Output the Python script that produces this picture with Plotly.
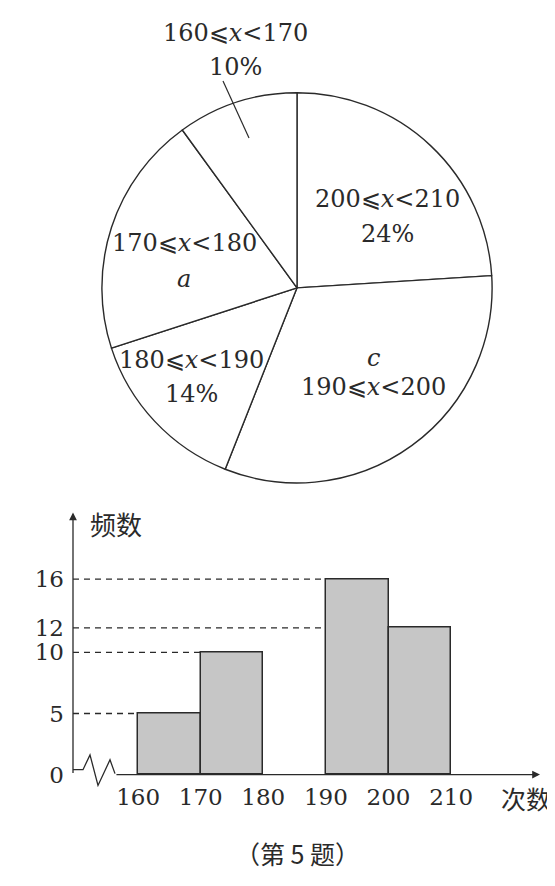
import plotly.graph_objects as go

W, H = 555, 886

# ---- data ----
pie_labels = ["200⩽x<210", "190⩽x<200", "180⩽x<190", "170⩽x<180", "160⩽x<170"]
pie_values = [24, 32, 14, 20, 10]          # percent (a = 20%, c = 32%)
pie_texts = ["24%", "c", "14%", "a", "10%"]

bin_left = [160, 170, 180, 190, 200]
freq = [5, 10, None, 16, 12]                 # 180-190 bar not drawn
x_ticks = [160, 170, 180, 190, 200, 210]
y_ticks = [0, 5, 10, 12, 16]

SERIF = "DejaVu Serif"
CJK = "Noto Sans CJK SC"
INK = "#2a2a2a"


def px(x):
    return x / W


def py(y):
    return 1 - y / H


fig = go.Figure()

# ---- pie ----
fig.add_trace(go.Pie(
    values=pie_values, labels=pie_labels, sort=False, direction="clockwise",
    rotation=0, textinfo="none", hoverinfo="skip", showlegend=False,
    marker=dict(colors=["white"] * len(pie_values), line=dict(color=INK, width=1.4)),
    domain=dict(x=[px(91), px(487)], y=[py(482), py(86)]),
))

# ---- histogram ----
xr = [149.6, 224.2]
yr = [0, 21.45]
centers = [l + 5 for l, f in zip(bin_left, freq) if f is not None]
heights = [f for f in freq if f is not None]
fig.add_trace(go.Bar(
    x=centers, y=heights, width=10, hoverinfo="skip", showlegend=False,
    marker=dict(color="#c6c6c6", line=dict(color=INK, width=1.5)),
    xaxis="x", yaxis="y",
))

shapes = []
# dashed guide lines: from the y axis to the first bar reaching that height
for v in sorted(set(heights)):
    left = min(l for l, f in zip(bin_left, freq) if f is not None and f >= v)
    shapes.append(dict(type="line", xref="x", yref="y", x0=xr[0], x1=left, y0=v, y1=v,
                       line=dict(color=INK, width=1.3, dash="6px,5px"), layer="below"))

# broken-axis zigzag near the origin
pts = [(65, 773), (75, 773), (82, 758), (90, 789), (102, 763), (107, 777)]
path = "M " + " L ".join(f"{px(a):.5f},{py(b):.5f}" for a, b in pts)
shapes.append(dict(type="path", xref="paper", yref="paper", path=path,
                   line=dict(color=INK, width=1.3)))
# leader line for the 160-170 label
shapes.append(dict(type="line", xref="paper", yref="paper",
                   x0=px(215), y0=py(74), x1=px(241), y1=py(132),
                   line=dict(color=INK, width=1.2)))

ann = []
# axis arrows
ann.append(dict(xref="x", yref="y", axref="x", ayref="y", x=xr[0], y=yr[1], ax=xr[0], ay=0,
                showarrow=True, arrowhead=2, arrowsize=1.2, arrowwidth=1.3, arrowcolor=INK, text=""))
ann.append(dict(xref="x", yref="y", axref="x", ayref="y", x=xr[1], y=0, ax=156.3, ay=0,
                showarrow=True, arrowhead=2, arrowsize=1.2, arrowwidth=1.3, arrowcolor=INK, text=""))

# pie labels
pie_ann = [
    ("160⩽<i>x</i><170", 227, 25), ("10%", 227, 60),
    ("200⩽<i>x</i><210", 379, 194), ("24%", 379, 229),
    ("170⩽<i>x</i><180", 176, 238), ("<i>a</i>", 176, 275),
    ("180⩽<i>x</i><190", 183, 357), ("14%", 183, 392),
    ("<i>c</i>", 365, 355), ("190⩽<i>x</i><200", 365, 385),
]
for t, x, y in pie_ann:
    ann.append(dict(xref="paper", yref="paper", x=px(x), y=py(y), text=t, showarrow=False,
                    xanchor="center", yanchor="middle", font=dict(family=SERIF, size=24, color=INK)))

ann.append(dict(xref="paper", yref="paper", x=px(108), y=py(523), text="频数", showarrow=False,
                xanchor="center", yanchor="middle", font=dict(family=CJK, size=26, color=INK)))
ann.append(dict(xref="paper", yref="paper", x=px(518), y=py(802), text="次数", showarrow=False,
                xanchor="center", yanchor="middle", font=dict(family=CJK, size=25, color=INK)))
ann.append(dict(xref="paper", yref="paper", x=px(289), y=py(858), text="（第 5 题）", showarrow=False,
                xanchor="center", yanchor="middle", font=dict(family=CJK, size=25, color=INK)))

fig.update_layout(
    width=W, height=H, margin=dict(l=0, r=0, t=0, b=0),
    paper_bgcolor="white", plot_bgcolor="rgba(0,0,0,0)",
    font=dict(family=SERIF),
    bargap=0,
    xaxis=dict(domain=[px(65), px(532)], range=xr, tickvals=x_ticks,
               ticktext=[str(t) for t in x_ticks], showgrid=False, zeroline=False,
               showline=False, ticks="", tickfont=dict(family=SERIF, size=23, color=INK),
               ticklabelstandoff=6, fixedrange=True),
    yaxis=dict(domain=[py(778), py(512)], range=yr, tickvals=y_ticks,
               ticktext=[str(t) for t in y_ticks], showgrid=False, zeroline=False,
               showline=False, ticks="", tickfont=dict(family=SERIF, size=23, color=INK),
               ticklabelstandoff=8, fixedrange=True),
    shapes=shapes, annotations=ann,
)

fig.write_html("out.html")
